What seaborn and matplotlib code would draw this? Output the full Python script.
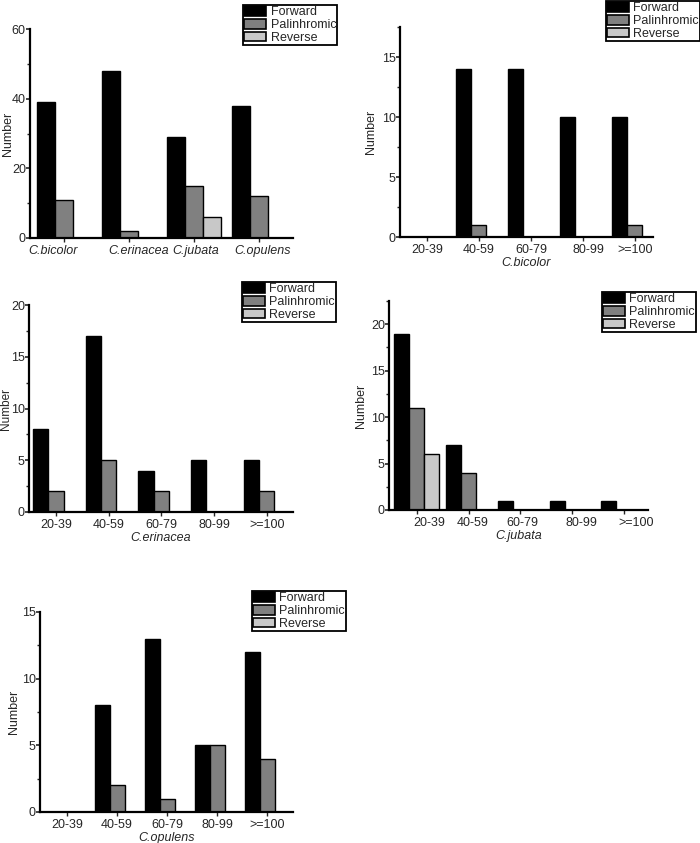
import pandas as pd
import matplotlib.pyplot as plt
import seaborn as sns
from matplotlib.patches import Patch
from matplotlib.ticker import MultipleLocator
from matplotlib.transforms import ScaledTranslation

sns.set_style("ticks")
plt.rcParams['font.family'] = ['Liberation Sans', 'DejaVu Sans']

# Data
series = ['Forward', 'Palinhromic', 'Reverse']
series_colors = ['#000000', '#808080', '#c8c8c8']

species = ['C.bicolor', 'C.erinacea', 'C.jubata', 'C.opulens']
total_forward = [39, 48, 29, 38]
total_palin = [11, 2, 15, 12]
total_reverse = [0, 0, 6, 0]

length_bins = ['20-39', '40-59', '60-79', '80-99', '>=100']

bicolor_forward = [0, 14, 14, 10, 10]
bicolor_palin = [0, 1, 0, 0, 1]
bicolor_reverse = [0, 0, 0, 0, 0]

erinacea_forward = [8, 17, 4, 5, 5]
erinacea_palin = [2, 5, 2, 0, 2]
erinacea_reverse = [0, 0, 0, 0, 0]

jubata_forward = [19, 7, 1, 1, 1]
jubata_palin = [11, 4, 0, 0, 0]
jubata_reverse = [6, 0, 0, 0, 0]

opulens_forward = [0, 8, 13, 5, 12]
opulens_palin = [0, 2, 1, 5, 4]
opulens_reverse = [0, 0, 0, 0, 0]

W, H = 700, 843


def long_df(cats, fwd, pal, rev):
    return pd.DataFrame({
        'cat': cats * 3,
        'series': [series[0]] * len(cats) + [series[1]] * len(cats) + [series[2]] * len(cats),
        'value': list(fwd) + list(pal) + list(rev),
    })


def panel(fig, box, cats, fwd, pal, rev, ymax, major, minor, xlim,
          legend_xy, ylabel_x, xlabel=None, italic_ticks=False, width=0.87,
          label_shift=None, ylabel_size=9):
    l, t, r, b = box
    ax = fig.add_axes([l / W, 1 - b / H, (r - l) / W, (b - t) / H])
    df = long_df(cats, fwd, pal, rev)
    sns.barplot(data=df, x='cat', y='value', hue='series', order=cats,
                hue_order=series, palette=series_colors, saturation=1,
                width=width, edgecolor='black', linewidth=1, ax=ax, legend=False)
    ax.set_ylim(0, ymax)
    ax.set_xlim(*xlim)
    ax.yaxis.set_major_locator(MultipleLocator(major))
    ax.yaxis.set_minor_locator(MultipleLocator(minor))
    ax.tick_params(axis='y', which='major', length=3, width=1.2, labelsize=9, pad=0)
    ax.tick_params(axis='y', which='minor', length=2, width=1)
    ax.tick_params(axis='x', length=3, width=1, labelsize=9, pad=2)
    sns.despine(ax=ax)
    for s in ['left', 'bottom']:
        ax.spines[s].set_linewidth(1.6)
        ax.spines[s].set_color('black')
    ax.set_ylabel('Number', fontsize=ylabel_size)
    # right edge of the rotated label, in figure pixels
    ax.yaxis.set_label_coords((ylabel_x - l) / (r - l), 0.5)
    if xlabel:
        ax.set_xlabel(xlabel, fontsize=9, style='italic', labelpad=1)
    else:
        ax.set_xlabel('')
    for i, lab in enumerate(ax.get_xticklabels()):
        if italic_ticks:
            lab.set_style('italic')
        if label_shift:
            lab.set_transform(lab.get_transform() +
                              ScaledTranslation(label_shift[i] / 100, 0, fig.dpi_scale_trans))
    handles = [Patch(facecolor=c, edgecolor='black', linewidth=1.2) for c in series_colors]
    leg = ax.legend(handles, series, loc='upper left',
                    bbox_to_anchor=(legend_xy[0] / W, 1 - legend_xy[1] / H),
                    bbox_transform=fig.transFigure, frameon=True, fancybox=False,
                    edgecolor='black', framealpha=1, fontsize=9,
                    handlelength=1.75, handleheight=0.8, labelspacing=0.05,
                    borderpad=0.1, handletextpad=0.35, borderaxespad=0)
    leg.get_frame().set_linewidth(1.3)
    return ax


fig = plt.figure(figsize=(7, 8.43), dpi=100)

panel(fig, (30, 29, 293, 238), species, total_forward, total_palin, total_reverse,
      60, 20, 10, (-0.52, 3.52), (243, 5), 14, italic_ticks=True, width=0.83,
      label_shift=[-11, 10, 2, 3])
panel(fig, (400, 27, 653, 237), length_bins, bicolor_forward, bicolor_palin, bicolor_reverse,
      17.5, 5, 2.5, (-0.52, 4.35), (606, 1), 377, xlabel='C.bicolor',
      label_shift=[0, 0, 0, 6, 0])
panel(fig, (29, 305, 293, 512), length_bins, erinacea_forward, erinacea_palin, erinacea_reverse,
      20, 5, 2.5, (-0.51, 4.5), (242, 282), 12, xlabel='C.erinacea', ylabel_size=8.5)
panel(fig, (389, 301, 648, 510), length_bins, jubata_forward, jubata_palin, jubata_reverse,
      22.5, 5, 2.5, (-0.54, 4.47), (602, 292), 367, xlabel='C.jubata',
      label_shift=[12, 4, 2, 9, 12])
panel(fig, (40, 612, 293, 812), length_bins, opulens_forward, opulens_palin, opulens_reverse,
      15, 5, 2.5, (-0.54, 4.52), (252, 591), 20, xlabel='C.opulens', width=0.9)

fig.savefig('out.png', dpi=100)
